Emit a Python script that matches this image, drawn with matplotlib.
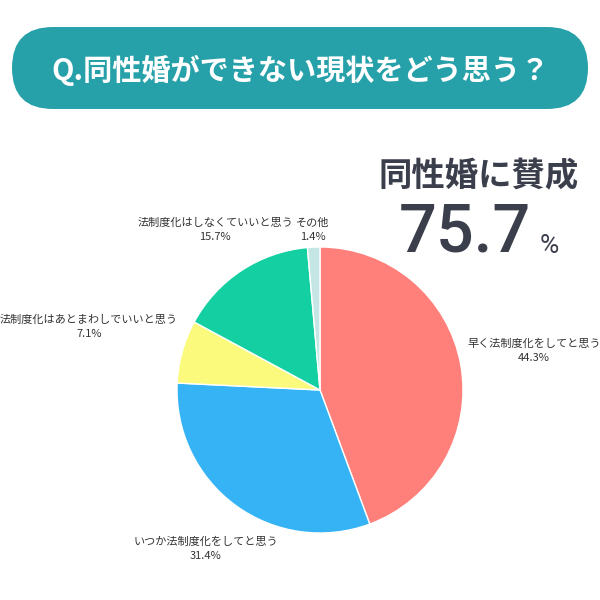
import matplotlib
matplotlib.use("Agg")
import matplotlib.pyplot as plt
from matplotlib.patches import FancyBboxPatch

plt.rcParams['font.family'] = ['Noto Sans CJK JP', 'DejaVu Sans']

# data
labels = ['早く法制度化をしてと思う', 'いつか法制度化をしてと思う',
          '法制度化はあとまわしでいいと思う', '法制度化はしなくていいと思う', 'その他']
values = [44.3, 31.4, 7.1, 15.7, 1.4]
colors = ['#FF7F7B', '#36B3F4', '#FBFA7C', '#14CFA2', '#C6E6E6']
title = 'Q.同性婚ができない現状をどう思う？'
headline = '同性婚に賛成'
support = 75.7

fig = plt.figure(figsize=(6, 6), dpi=100)
fig.patch.set_facecolor('white')

# overlay in pixel coords
ov = fig.add_axes([0, 0, 1, 1])
ov.set_xlim(0, 600)
ov.set_ylim(600, 0)
ov.axis('off')

banner = FancyBboxPatch((12, 27), 576, 82, boxstyle='round,pad=0,rounding_size=41',
                        fc='#26A1A9', ec='none')
ov.add_patch(banner)
ov.text(300, 70, title, color='white', fontsize=21, fontweight='bold',
        ha='center', va='center')

ov.text(479, 177, headline, color='#3B3F4C', fontsize=24, fontweight='bold',
        ha='center', va='center')
ov.text(465, 251, f'{support}', color='#3B3F4C', fontsize=48, fontweight='medium',
        family=['Roboto', 'DejaVu Sans'], ha='center', va='baseline')
ov.text(549, 253, '%', color='#3B3F4C', fontsize=19,
        family=['Roboto', 'DejaVu Sans'], ha='center', va='baseline')

# pie
cx, cy, r = 320, 390, 143
pie_ax = fig.add_axes([(cx - r) / 600, 1 - (cy + r) / 600, 2 * r / 600, 2 * r / 600])
pie_ax.pie(values, colors=colors, startangle=90, counterclock=False,
           wedgeprops=dict(linewidth=1, edgecolor='white'))
pie_ax.set_xlim(-1, 1)
pie_ax.set_ylim(-1, 1)
pie_ax.set_aspect('equal')
pie_ax.axis('off')

label_pos = [(534, 351), (206, 549), (89, 327), (215, 230), (313, 230)]
for (x, y), lab, v in zip(label_pos, labels, values):
    ov.text(x, y, f'{lab}\n{v}%', color='#333333', fontsize=8, ha='center',
            va='center', linespacing=1.5)

fig.savefig('out.png', dpi=100)
